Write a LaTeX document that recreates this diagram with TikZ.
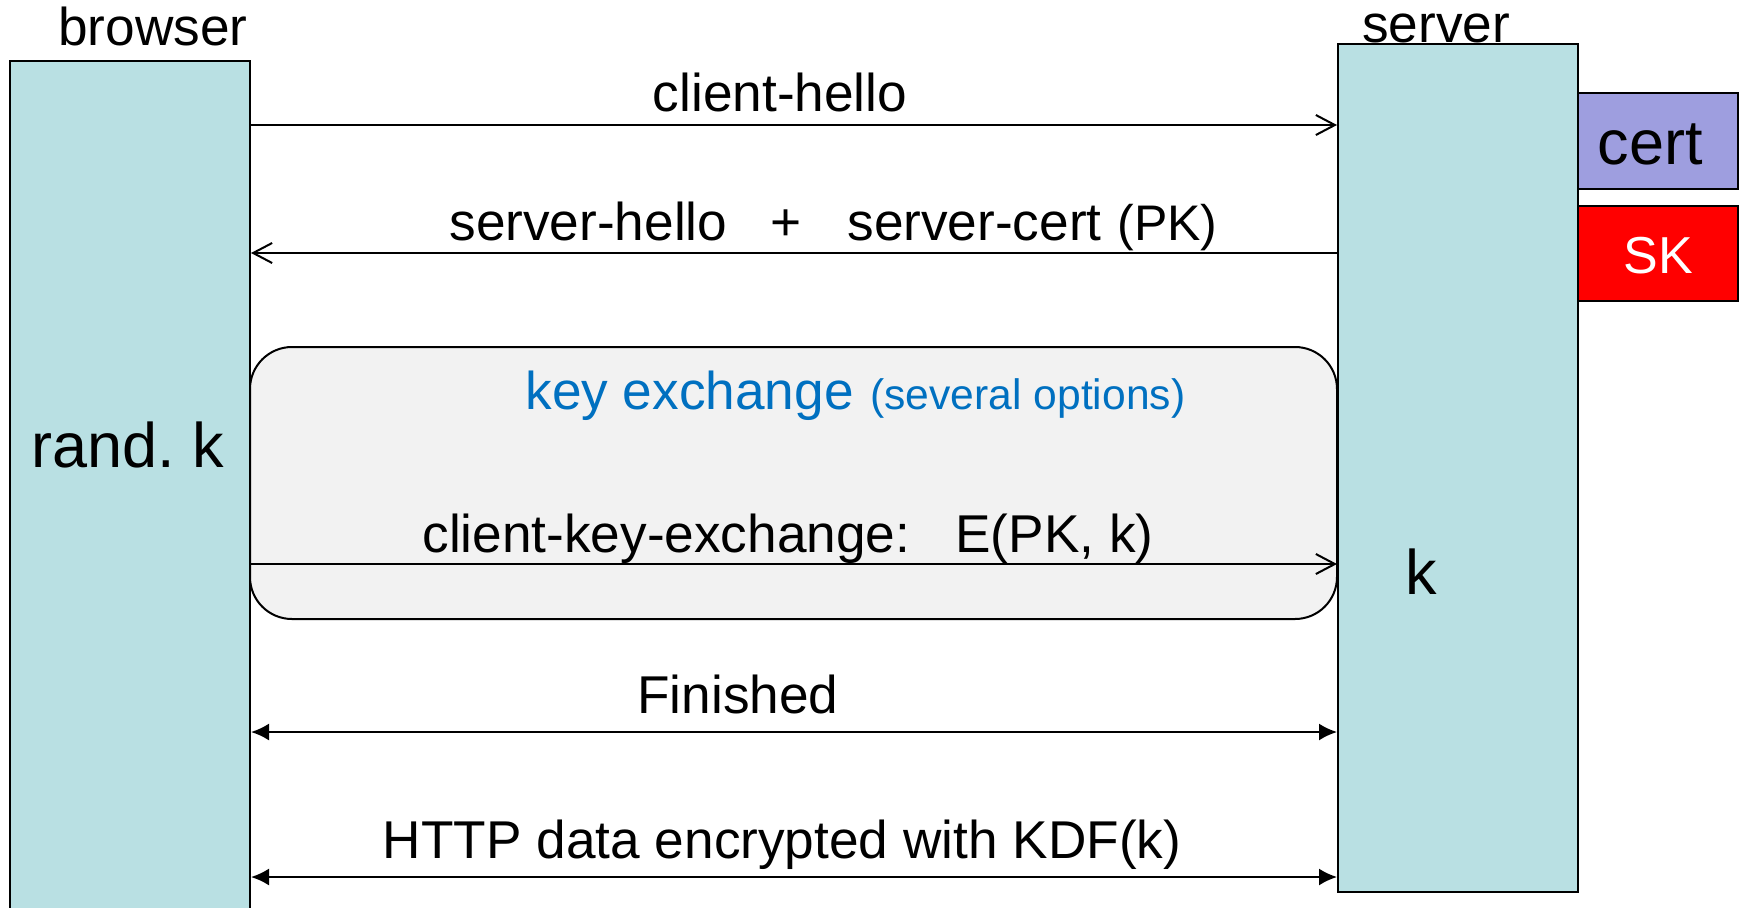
\documentclass[tikz,border=0pt]{standalone}
\usepackage{fontspec}
\setmainfont{Liberation Sans}
\usetikzlibrary{arrows.meta,fit}
\definecolor{partyfill}{HTML}{B9E0E3}
\definecolor{certfill}{HTML}{9E9EDF}
\definecolor{skfill}{HTML}{FF0000}
\definecolor{kxfill}{HTML}{F2F2F2}
\definecolor{kxblue}{HTML}{0070C0}
\begin{document}
\begin{tikzpicture}[x=0.5pt,y=-0.5pt,
  party/.style={draw=black, line width=1pt, fill=partyfill, inner sep=0pt},
  keybox/.style={draw=black, line width=1pt, inner sep=0pt},
  kxbox/.style={draw=black, line width=1pt, fill=kxfill, rounded corners=21pt, inner sep=0pt},
  lbl/.style={font=\fontsize{26.6}{31}\selectfont, inner sep=0pt, anchor=base},
  big/.style={font=\fontsize{31.5}{37}\selectfont, inner sep=0pt, anchor=base},
  small/.style={font=\fontsize{25}{29}\selectfont, inner sep=0pt, anchor=base},
  msg/.style={line width=1pt, -{Straight Barb[length=9.5pt,width=10pt,line width=1pt]}},
  both/.style={line width=1pt, {Latex[length=9pt,width=8.5pt]}-{Latex[length=9pt,width=8.5pt]}}
]
\useasboundingbox (0,0) rectangle (1742,907);
\clip (0,0) rectangle (1742,907);
% parties
\node[party, fit={(10,61) (250,940)}] (browser) {};
\node[party, fit={(1338,44) (1578,892)}] (server) {};
\node[keybox, fill=certfill, fit={(1578,93) (1738,189)}] (cert) {};
\node[keybox, fill=skfill, fit={(1578,206) (1738,301)}] (sk) {};
\node[big] (certlbl) at (1650,164) {cert};
\node[lbl, text=white, font=\fontsize{26}{31}\selectfont] (sklbl) at (sk.center |- 0,273) {SK};
\node[lbl] (browserlbl) at (153,45) {browser};
\node[lbl] (serverlbl) at (1436,42) {server};
\node[big, anchor=base west] (randk) at (31,467) {rand.\ k};
\node[big, anchor=base west] (kk) at (1405,594) {k};
% key exchange box
\node[kxbox, fit={(250,347) (1337,619)}] (kx) {};
\node[lbl, anchor=base west, text=kxblue] (kxt) at (525,409) {key exchange};
\node[anchor=base west, inner sep=0pt, text=kxblue, font=\fontsize{21.3}{25}\selectfont] (kxo) at (870,409) {(several options)};
% message rows
\coordinate (y1) at (0,125);
\coordinate (y2) at (0,253);
\coordinate (y3) at (0,564);
\coordinate (y4) at (0,732);
\coordinate (y5) at (0,877);
\draw[msg] (browser.east |- y1) -- (server.west |- y1);
\draw[msg] (server.west |- y2) -- (browser.east |- y2);
\draw[msg] (browser.east |- y3) -- (server.west |- y3);
\draw[both] (browser.east |- y4) -- (server.west |- y4);
\draw[both] (browser.east |- y5) -- (server.west |- y5);
% labels
\node[lbl] (l1) at (780,111) {client-hello};
\node[lbl, anchor=base west] (l2a) at (449,240) {server-hello};
\node[lbl] (l2b) at (786,240) {+};
\node[lbl, anchor=base west] (l2c) at (847,240) {server-cert};
\node[small, anchor=base west] (l2d) at (1117,240) {(PK)};
\node[lbl, anchor=base west] (l3a) at (422,552) {client-key-exchange:};
\node[lbl, anchor=base west] (l3b) at (955,552) {E(PK, k)};
\node[lbl] (l4) at (738,713) {Finished};
\node[lbl] (l5) at (782,858) {HTTP data encrypted with KDF(k)};
\end{tikzpicture}
\end{document}
